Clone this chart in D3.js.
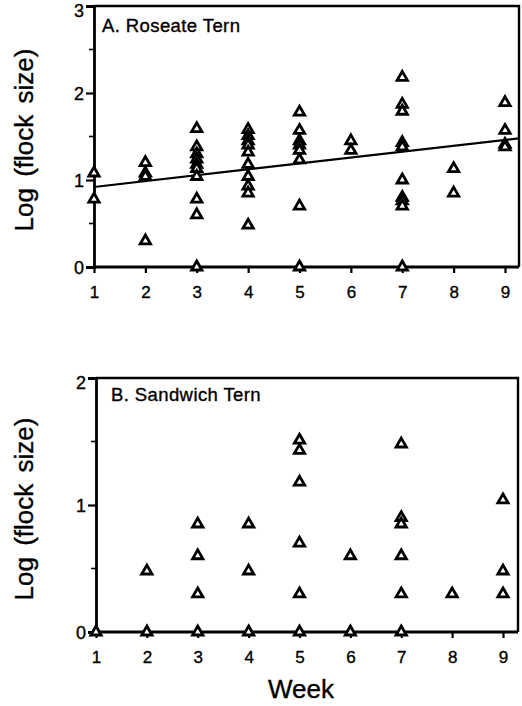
<!DOCTYPE html>
<html>
<head>
<meta charset="utf-8">
<script src="https://cdn.jsdelivr.net/npm/d3@7"></script>
<style>
  body { margin: 0; background: #fff; }
  text { font-family: "Liberation Sans", Arial, Helvetica, sans-serif; fill: #000; stroke: #000; stroke-width: 0.35px; }
</style>
</head>
<body>
<script>
// week ticks
var weeks = [1, 2, 3, 4, 5, 6, 7, 8, 9];

// Roseate tern: log(flock size) per week
var roseateWeek = [1, 1,
  2, 2, 2, 2,
  3, 3, 3, 3, 3, 3, 3, 3, 3, 3,
  4, 4, 4, 4, 4, 4, 4, 4, 4, 4,
  5, 5, 5, 5, 5, 5, 5, 5,
  6, 6,
  7, 7, 7, 7, 7, 7, 7, 7, 7, 7,
  8, 8,
  9, 9, 9, 9];
var roseateLog = [1.08, 0.78,
  1.20, 1.08, 1.04, 0.30,
  1.59, 1.38, 1.30, 1.24, 1.18, 1.13, 1.04, 0.78, 0.60, 0,
  1.58, 1.51, 1.45, 1.40, 1.32, 1.18, 1.04, 0.93, 0.85, 0.48,
  1.78, 1.57, 1.45, 1.40, 1.34, 1.23, 0.70, 0,
  1.45, 1.34,
  2.18, 1.87, 1.79, 1.43, 1.38, 1.00, 0.80, 0.76, 0.70, 0,
  1.13, 0.85,
  1.89, 1.57, 1.41, 1.38];

// fitted line for roseate tern: y = a + b * week
var fitIntercept = 0.852;
var fitSlope = 0.0676;

// Sandwich tern
var sandwichWeek = [1,
  2, 2,
  3, 3, 3, 3,
  4, 4, 4,
  5, 5, 5, 5, 5, 5,
  6, 6,
  7, 7, 7, 7, 7, 7,
  8,
  9, 9, 9];
var sandwichLog = [0,
  0.48, 0,
  0.85, 0.60, 0.30, 0,
  0.85, 0.48, 0,
  1.51, 1.43, 1.18, 0.70, 0.30, 0,
  0.60, 0,
  1.48, 0.90, 0.85, 0.60, 0.30, 0,
  0.30,
  1.04, 0.48, 0.30];

var yTicksA = [0, 1, 2, 3];
var yMinorA = [0.5, 1.5, 2.5];
var yTicksB = [0, 1, 2];
var yMinorB = [0.5, 1.5];

var W = 522, H = 706;
var svg = d3.select("body").append("svg")
    .attr("width", W)
    .attr("height", H);

var panels = [
  { title: "A. Roseate Tern", wk: roseateWeek, val: roseateLog, yMax: 3,
    ticks: yTicksA, minor: yMinorA, fit: true,
    left: 94, right: 519, x9: 505, top: 6, bottom: 267, titleX: 102, titleY: 32, labelY: 140 },
  { title: "B. Sandwich Tern", wk: sandwichWeek, val: sandwichLog, yMax: 2,
    ticks: yTicksB, minor: yMinorB, fit: false,
    left: 96, right: 518, x9: 503, top: 378, bottom: 632, titleX: 111, titleY: 401, labelY: 509 }
];

panels.forEach(function (p) {
  var x = d3.scaleLinear().domain([1, 9]).range([p.left, p.x9]);
  var y = d3.scaleLinear().domain([0, p.yMax]).range([p.bottom, p.top]);
  var g = svg.append("g");

  // frame top + right
  g.append("path")
    .attr("d", "M" + p.left + "," + p.top + "H" + p.right + "V" + p.bottom)
    .attr("fill", "none").attr("stroke", "#000").attr("stroke-width", 2.4);

  // y axis
  var yAx = g.append("g").attr("transform", "translate(" + p.left + ",0)")
    .call(d3.axisLeft(y).tickValues(p.ticks).tickFormat(d3.format("d")).tickSize(8).tickPadding(2));
  yAx.select(".domain").attr("stroke-width", 2.8);
  yAx.selectAll(".tick line").attr("stroke-width", 2.2);
  yAx.selectAll("text").style("font-size", "18px")
    .attr("dy", function (d) { return d === p.yMax ? "0.6em" : "0.34em"; });
  g.selectAll(".minor")
    .data(p.minor).enter().append("line")
    .attr("x1", p.left - 5).attr("x2", p.left)
    .attr("y1", function (d) { return y(d); }).attr("y2", function (d) { return y(d); })
    .attr("stroke", "#000").attr("stroke-width", 1.6);

  // x axis
  var xAx = g.append("g").attr("transform", "translate(0," + p.bottom + ")")
    .call(d3.axisBottom(x).tickValues(weeks).tickSize(6).tickPadding(13));
  xAx.select(".domain").attr("d", "M" + p.left + ",0H" + p.right).attr("stroke-width", 2.8);
  xAx.selectAll(".tick line").attr("stroke-width", 2.2);
  xAx.selectAll("text").style("font-size", "17px");

  // panel title
  g.append("text")
    .attr("x", p.titleX).attr("y", p.titleY)
    .style("font-size", "18.5px")
    .style("letter-spacing", "0.4px")
    .text(p.title);

  // y label
  g.append("text")
    .attr("transform", "translate(33," + p.labelY + ") rotate(-90)")
    .attr("text-anchor", "middle")
    .style("font-size", "26px")
    .style("word-spacing", "4px")
    .text("Log (flock size)");

  // regression line
  if (p.fit) {
    var xEnd = x.invert(p.right);
    g.append("line")
      .attr("x1", x(1)).attr("y1", y(fitIntercept + fitSlope * 1))
      .attr("x2", x(xEnd)).attr("y2", y(fitIntercept + fitSlope * xEnd))
      .attr("stroke", "#000").attr("stroke-width", 2.2);
  }

  // points
  var tri = d3.symbol().type(d3.symbolTriangle).size(46);
  g.selectAll(".pt")
    .data(p.wk.map(function (w, i) { return [w, p.val[i]]; }))
    .enter().append("path")
    .attr("d", tri)
    .attr("transform", function (d) { return "translate(" + x(d[0]) + "," + y(d[1]) + ")"; })
    .attr("fill", "#fff").attr("stroke", "#000").attr("stroke-width", 2.8);
});

// x label
svg.append("text")
  .attr("x", 301).attr("y", 698)
  .attr("text-anchor", "middle")
  .style("font-size", "26px")
  .text("Week");
</script>
</body>
</html>
